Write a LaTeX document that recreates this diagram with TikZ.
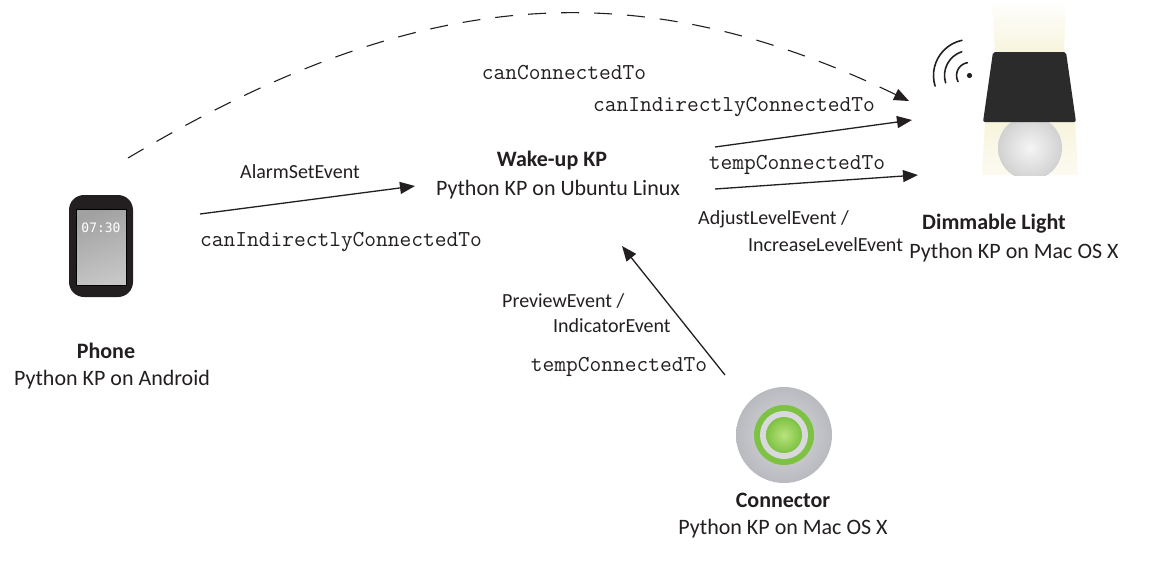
\documentclass[tikz,border=0pt]{standalone}
\usepackage{fontspec}
\setmainfont{Carlito}
\newfontfamily\clockfont{DejaVu Sans Mono}
\usetikzlibrary{arrows.meta,calc}

\definecolor{ink}{HTML}{231F20}
\definecolor{shadecol}{HTML}{2B2B2C}
\definecolor{glow}{HTML}{F7F4DC}
\definecolor{leaf}{HTML}{7DC242}
\definecolor{leaflight}{HTML}{B9E27E}
\definecolor{knob}{HTML}{D9D9DD}
\definecolor{knobedge}{HTML}{B9BABF}

\begin{document}
\begin{tikzpicture}[x=1pt,y=-1pt,
  inner sep=0pt,
  title/.style={font=\fontsize{22}{26}\selectfont\bfseries, text=ink},
  sub/.style={font=\fontsize{22}{26}\selectfont, text=ink},
  evt/.style={font=\fontsize{20}{24}\selectfont, text=ink},
  rel/.style={font=\ttfamily\fontsize{22.8}{26}\selectfont, text=ink},
  link/.style={draw=ink, line width=1.3pt, -{Triangle[length=15pt,width=12pt]}},
  maybe/.style={draw=ink, line width=1.1pt, dash pattern=on 18pt off 15pt, -{Triangle[length=15pt,width=12pt]}},
  wave/.style={draw=ink, line width=1.6pt, line cap=round}]

\useasboundingbox (0,0) rectangle (1165,568);

% ---------- phone ----------
\node[draw=none, fill=ink, rounded corners=15pt, minimum width=64pt, minimum height=102pt] (phone) at (101,246) {};
\shade[top color=gray!95!black!70, bottom color=gray!45, shading angle=20, draw=black, line width=0.6pt]
  (76,209) rectangle (126,285);
\node[font=\clockfont\fontsize{13}{15}\selectfont, text=white] (clock) at (101,228) {07:30};
\node[title] (phoneT) at (106,351) {Phone};
\node[sub]   (phoneS) at (112,380) {Python KP on Android};

% ---------- wake-up KP ----------
\node[title] (wake)  at (552,161) {Wake-up KP};
\node[sub]   (wakeS) at (558,190) {Python KP on Ubuntu Linux};

% ---------- dimmable light ----------
\node[minimum width=95pt, minimum height=176pt] (lamp) at (1030,88) {};
\shade[top color=white, bottom color=glow] (992,0) -- (1066,0) -- (1064,53) -- (995,53) -- cycle;
\shade[top color=glow, bottom color=glow!40] (985,120) -- (1075,120) -- (1078,175) -- (982,175) -- cycle;
\begin{scope}
  \clip (990,100) rectangle (1070,175);
  \shade[inner color=gray!8, outer color=gray!36] (1030,148) circle (32);
\end{scope}
\fill[shadecol, rounded corners=2pt] (993,52) -- (1066,52) -- (1076,122) -- (983,122) -- cycle;
\fill[ink] (969.5,75.5) circle (2.6);
\draw[wave] (969.5,75.5) ++(152:13) arc[start angle=152, end angle=261, radius=13];
\draw[wave] (969.5,75.5) ++(163:25) arc[start angle=163, end angle=252, radius=25];
\draw[wave] (969.5,75.5) ++(163:36) arc[start angle=163, end angle=258, radius=36];
\node[title] (lampT) at (994,224) {Dimmable Light};
\node[sub]   (lampS) at (1014,253) {Python KP on Mac OS X};

% ---------- connector ----------
\node[circle, minimum size=96pt] (conn) at (784,435) {};
\shade[inner color=knob, outer color=knobedge] (784,435) circle (48);
\fill[leaf] (784,435) circle (30);
\fill[knob] (784,435) circle (24);
\shade[inner color=leaflight, outer color=leaf] (784,435) circle (18);
\node[title] (connT) at (783,500) {Connector};
\node[sub]   (connS) at (783,529) {Python KP on Mac OS X};

% ---------- connector end points ----------
\coordinate (dashS) at (128,158);
\coordinate (dashE) at (909,101);
\coordinate (alarmS) at (200,214);
\coordinate (alarmE) at (415,186);
\coordinate (indS) at (715,147);
\coordinate (indE) at (912,120);
\coordinate (tmpS) at (715,189);
\coordinate (tmpE) at (918,175);
\coordinate (prevS) at (725,375);
\coordinate (prevE) at (622,246);

% ---------- relations ----------
\draw[maybe] (dashS) .. controls (411,-10) and (629,-34) .. (dashE);
\draw[link] (alarmS) -- (alarmE);
\draw[link] (indS) -- (indE);
\draw[link] (tmpS) -- (tmpE);
\draw[link] (prevS) -- (prevE);

% ---------- labels ----------
\node[rel] (lblCan)   at (564,73)  {canConnectedTo};
\node[rel] (lblInd1)  at (734,107) {canIndirectlyConnectedTo};
\node[rel] (lblTmp1)  at (797,165) {tempConnectedTo};
\node[evt, anchor=west] (lblAdj) at (698,219) {AdjustLevelEvent /};
\node[evt, anchor=west] (lblInc) at (748,245) {IncreaseLevelEvent};
\node[evt] (lblAlarm) at (300,172) {AlarmSetEvent};
\node[rel] (lblInd2)  at (341,242) {canIndirectlyConnectedTo};
\node[evt, anchor=west] (lblPrev) at (502,301) {PreviewEvent /};
\node[evt, anchor=west] (lblInd)  at (553,326) {IndicatorEvent};
\node[rel] (lblTmp2)  at (619,367) {tempConnectedTo};

\end{tikzpicture}
\end{document}
